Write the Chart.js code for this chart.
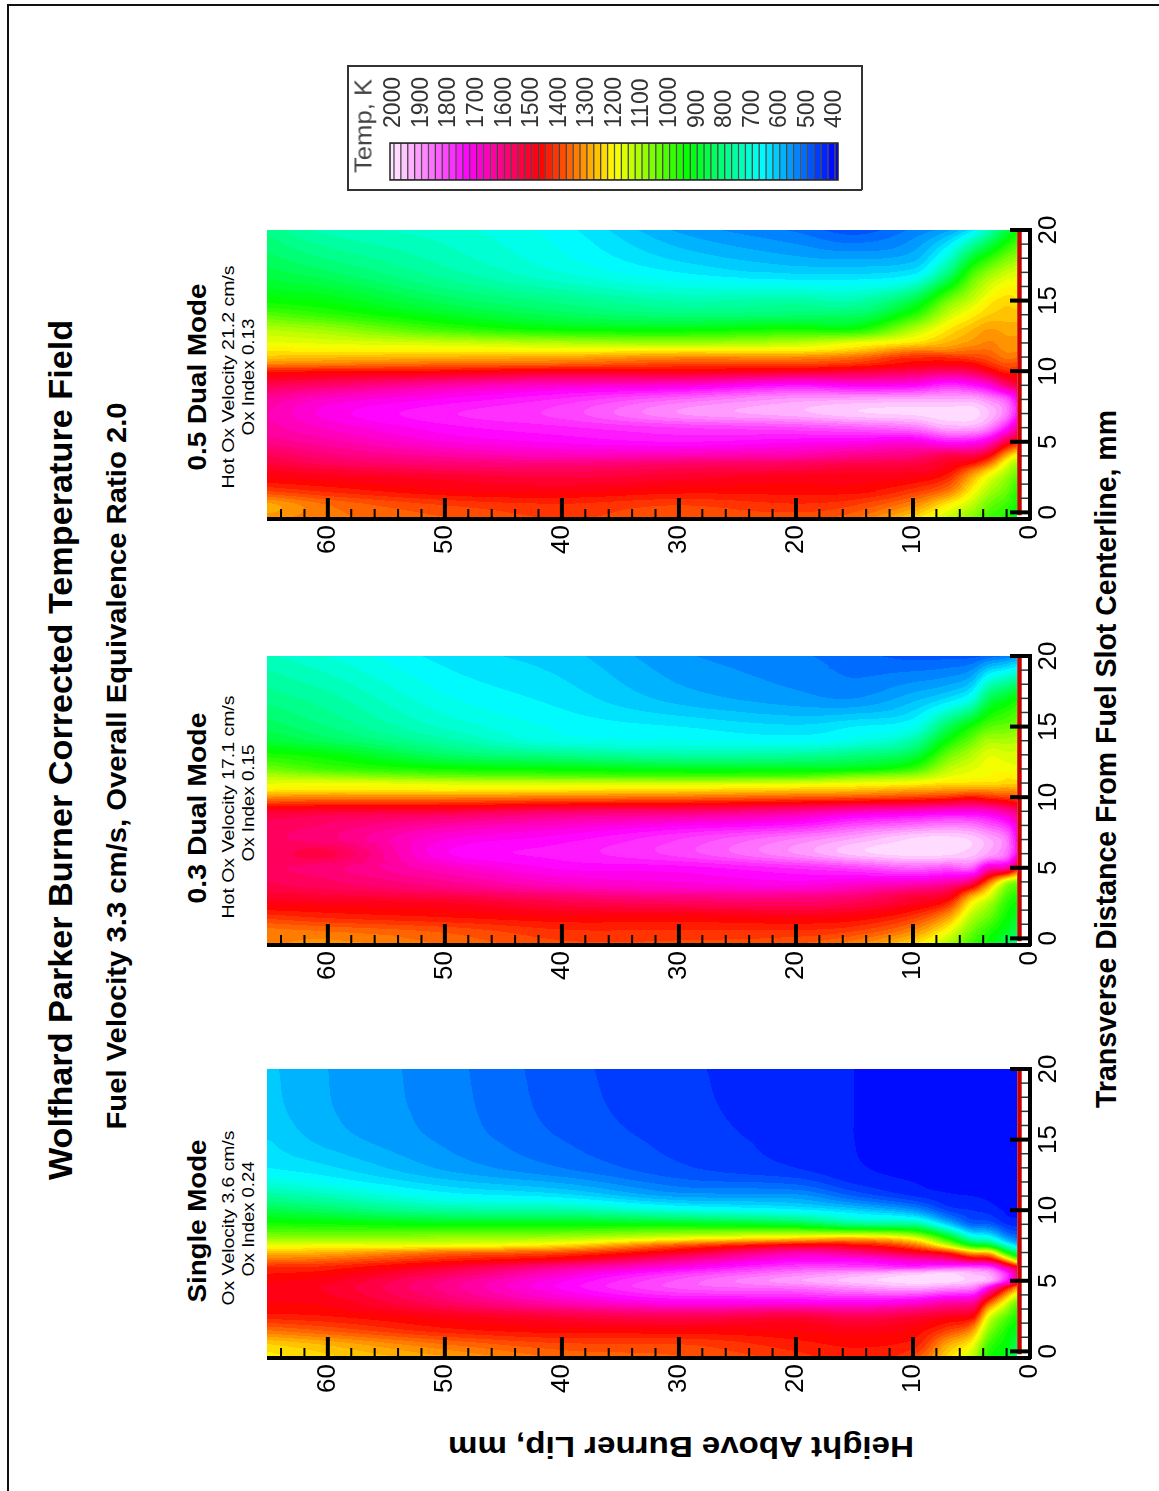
<!DOCTYPE html>
<html><head><meta charset="utf-8">
<style>
html,body{margin:0;padding:0;background:#fff;width:1159px;height:1491px;overflow:hidden}
#page{position:relative;width:1159px;height:1491px}
canvas{position:absolute;display:block}
.t{position:absolute;white-space:nowrap;color:#000;font-family:"Liberation Sans",Arial,sans-serif;line-height:1}
.frame{position:absolute;background:#111}
</style>
<script src="https://cdn.jsdelivr.net/npm/chart.js@4/dist/chart.umd.min.js"></script>
</head><body><div id="page"></div>
<script>
// ---------- data ----------
const heightColumns = [1,2,3.5,5,7,10,15,20,30,40,50,60,65];            // mm above lip
const singleRows = [-0.5,0.5,1.5,2.5,3.5,4.5,5,5.5,6,6.5,7,7.5,8,9,10,11,12,13,15,17,20]; // mm from centerline
const dualRows = [-0.5,0.5,1.5,2.5,3,3.5,4,5,6,7,8,9,10,10.5,11,11.5,12,13,14,15,17,20];
// one list per height column, temperatures in K, in row order
const singleModeTemps = [
[800,850,900,950,1030,1300,1560,1580,1450,1050,800,620,520,440,415,405,400,400,400,400,400],
[900,925,960,1030,1180,1460,1750,1780,1590,1270,950,720,570,450,420,410,405,400,400,400,400],
[950,1000,1080,1180,1400,1720,1930,1920,1780,1500,1250,900,700,500,440,420,410,405,400,400,400],
[1130,1200,1320,1480,1640,1880,1960,1950,1800,1530,1280,950,740,510,450,425,415,405,400,400,400],
[1230,1290,1400,1500,1650,1900,1990,1980,1800,1620,1430,1150,950,620,470,430,415,405,405,405,405],
[1390,1440,1470,1530,1700,1930,1990,1960,1770,1660,1510,1360,1190,780,560,450,425,418,413,413,413],
[1440,1455,1490,1560,1730,1900,1960,1920,1800,1720,1600,1470,1280,800,620,500,445,428,425,425,425],
[1410,1440,1475,1530,1720,1860,1920,1880,1800,1720,1640,1490,1250,880,660,560,490,450,440,438,437],
[1370,1400,1470,1560,1720,1830,1830,1790,1700,1610,1500,1380,1190,920,700,570,510,480,465,458,455],
[1350,1395,1465,1530,1660,1730,1720,1680,1610,1490,1390,1240,1120,930,760,640,570,525,500,490,485],
[1290,1350,1440,1490,1570,1610,1600,1560,1510,1430,1350,1190,1100,930,770,670,610,570,545,538,535],
[1240,1280,1380,1450,1485,1505,1490,1465,1430,1360,1280,1190,1090,950,830,740,670,630,590,578,575],
[1210,1250,1350,1440,1475,1485,1470,1450,1420,1340,1270,1180,1090,960,860,770,700,650,625,610,605]
];
const dual03Temps = [
[770,840,890,930,960,1000,1060,1450,1720,1720,1680,1580,1370,1310,1240,1210,1180,1160,1120,1060,940,560],
[840,900,940,980,1010,1050,1130,1640,1860,1870,1780,1630,1400,1320,1240,1220,1190,1160,1110,1040,900,530],
[925,970,1040,1110,1170,1240,1360,1670,1920,1930,1830,1680,1420,1320,1230,1200,1190,1170,1110,1020,840,510],
[990,1050,1120,1210,1290,1430,1580,1840,1960,1970,1870,1700,1450,1320,1230,1190,1170,1120,1040,950,690,490],
[1100,1190,1300,1430,1500,1560,1650,1830,1980,1990,1880,1700,1420,1310,1230,1170,1130,1040,940,840,630,490],
[1220,1320,1410,1500,1530,1600,1680,1850,1990,1980,1860,1680,1400,1300,1200,1100,990,860,760,680,590,490],
[1320,1400,1470,1550,1590,1650,1700,1810,1960,1930,1820,1660,1380,1270,1180,1060,920,800,690,650,550,510],
[1370,1420,1480,1570,1610,1680,1720,1780,1900,1880,1760,1620,1370,1260,1160,1010,910,770,670,630,560,530],
[1390,1420,1470,1560,1610,1670,1700,1740,1810,1800,1720,1580,1350,1240,1150,1000,910,760,680,650,590,555],
[1390,1420,1470,1540,1580,1640,1680,1730,1760,1740,1680,1570,1340,1230,1150,1020,930,790,690,670,640,610],
[1350,1380,1450,1500,1540,1590,1620,1670,1720,1700,1640,1530,1330,1220,1160,1040,950,830,760,720,680,640],
[1310,1350,1430,1490,1520,1550,1570,1590,1540,1590,1580,1520,1330,1230,1180,1090,1000,930,840,800,760,700],
[1330,1340,1410,1490,1510,1540,1550,1570,1570,1570,1560,1510,1320,1220,1170,1120,1050,960,880,840,790,730]
];
const dual05Temps = [
[890,930,960,1010,1050,1100,1170,1440,1620,1740,1720,1530,1430,1390,1350,1320,1310,1290,1260,1230,1160,930],
[950,990,1040,1090,1130,1180,1280,1530,1750,1870,1830,1590,1430,1380,1340,1320,1310,1290,1260,1240,1140,860],
[990,1040,1110,1180,1250,1360,1470,1680,1880,1950,1890,1700,1490,1420,1380,1350,1330,1300,1250,1210,1080,740],
[1060,1130,1210,1290,1360,1460,1540,1740,1930,1990,1930,1750,1550,1470,1400,1350,1310,1270,1210,1140,990,640],
[1130,1210,1340,1430,1470,1500,1540,1750,1930,1990,1930,1780,1570,1480,1420,1330,1280,1220,1140,1050,800,570],
[1230,1320,1410,1480,1510,1540,1590,1700,1870,1980,1930,1730,1550,1470,1420,1330,1230,1110,970,860,640,530],
[1350,1400,1460,1490,1510,1550,1610,1720,1840,1970,1920,1720,1520,1420,1350,1250,1180,940,830,750,620,485],
[1380,1420,1460,1490,1530,1570,1640,1730,1820,1940,1910,1750,1500,1400,1320,1210,1130,950,820,760,620,520],
[1380,1400,1460,1510,1540,1580,1650,1750,1800,1900,1850,1690,1480,1400,1320,1210,1100,920,810,750,650,570],
[1400,1420,1480,1530,1560,1600,1660,1730,1770,1810,1780,1680,1490,1370,1290,1200,1120,930,840,790,700,660],
[1370,1400,1470,1510,1550,1590,1630,1700,1740,1770,1730,1640,1460,1360,1280,1210,1150,990,900,840,760,710],
[1340,1350,1430,1490,1520,1560,1590,1640,1680,1710,1680,1580,1450,1340,1270,1210,1170,1090,980,920,830,740],
[1320,1290,1400,1480,1500,1530,1550,1610,1640,1650,1630,1550,1440,1330,1260,1220,1180,1120,1020,940,860,790]
];
const heightMajorTicks = [0,10,20,30,40,50,60];
const heightMinorTicks = [2,4,6,8,12,14,16,18,22,24,26,28,32,34,36,38,42,44,46,48,52,54,56,58,62,64];
const distanceMajorTicks = [0,5,10,15,20];
const distanceMinorTicks = [1,2,3,4,6,7,8,9,11,12,13,14,16,17,18,19];
const lipHeight = [0.9];
const legendLevels = [2012.5,1987.5,1962.5,1937.5,1912.5,1887.5,1862.5,1837.5,1812.5,1787.5,1762.5,1737.5,1712.5,1687.5,1662.5,1637.5,1612.5,1587.5,1562.5,1537.5,1512.5,1487.5,1462.5,1437.5,1412.5,1387.5,1362.5,1337.5,1312.5,1287.5,1262.5,1237.5,1212.5,1187.5,1162.5,1137.5,1112.5,1087.5,1062.5,1037.5,1012.5,987.5,962.5,937.5,912.5,887.5,862.5,837.5,812.5,787.5,762.5,737.5,712.5,687.5,662.5,637.5,612.5,587.5,562.5,537.5,512.5,487.5,462.5,437.5,412.5,387.5];
const panelTitles = ["Single Mode","0.3 Dual Mode","0.5 Dual Mode"];
const panelLine2 = ["Ox Velocity 3.6 cm/s","Hot Ox Velocity 17.1 cm/s","Hot Ox Velocity 21.2 cm/s"];
const panelLine3 = ["Ox Index 0.24","Ox Index 0.15","Ox Index 0.13"];

// ---------- colour map ----------
const stopT = [400,667,933,1200,1467,1733,2000];
const stopC = [[0,0,255],[0,255,255],[0,255,0],[255,255,0],[255,0,0],[255,0,255],[255,230,255]];
function colourFor(t){
  t=Math.max(400,Math.min(2000,t));
  let i=0; while(i<stopT.length-2 && t>stopT[i+1]) i++;
  const f=(t-stopT[i])/(stopT[i+1]-stopT[i]), a=stopC[i], b=stopC[i+1];
  return `rgb(${Math.round(a[0]+(b[0]-a[0])*f)},${Math.round(a[1]+(b[1]-a[1])*f)},${Math.round(a[2]+(b[2]-a[2])*f)})`;
}
const BAND=25;
function bandOf(t){return Math.floor(t/BAND)}
function bracket(arr,v){
  let i=0; while(i<arr.length-2 && v>arr[i+1]) i++;
  let f=(v-arr[i])/(arr[i+1]-arr[i]); f=Math.max(0,Math.min(1,f));
  return [i,f];
}
// smooth contour surface through the read values
function tangents(xs,ys){
  const n=xs.length,m=new Array(n);
  for(let i=0;i<n;i++){
    if(i===0){m[i]=(ys[1]-ys[0])/(xs[1]-xs[0]);continue;}
    if(i===n-1){m[i]=(ys[n-1]-ys[n-2])/(xs[n-1]-xs[n-2]);continue;}
    const dl=(ys[i]-ys[i-1])/(xs[i]-xs[i-1]),dr=(ys[i+1]-ys[i])/(xs[i+1]-xs[i]);
    let t=(ys[i+1]-ys[i-1])/(xs[i+1]-xs[i-1]);
    if(dl*dr>0){const lim=3*Math.min(Math.abs(dl),Math.abs(dr));t=Math.sign(t)*Math.min(Math.abs(t),lim);}
    m[i]=t;
  }
  return m;
}
function hermite(xs,ys,ms,i,f){
  const h=xs[i+1]-xs[i],f2=f*f,f3=f2*f;
  return (2*f3-3*f2+1)*ys[i]+(f3-2*f2+f)*h*ms[i]+(-2*f3+3*f2)*ys[i+1]+(f3-f2)*h*ms[i+1];
}
const page=document.getElementById('page');

// ---------- contour fill, positioned through the chart's scales ----------
const contourFill={id:'contourFill',beforeDatasetsDraw(chart){
  const ds=chart.data.datasets[0], xs=chart.scales.x, ys=chart.scales.y, ctx=chart.ctx;
  const cols=ds.heights, rows=ds.rows, T=ds.temps;
  const top=Math.round(ys.getPixelForValue(20)), bottom=Math.round(ys.getPixelForValue(-0.47));
  const left=Math.round(xs.getPixelForValue(65.2)), right=Math.round(xs.getPixelForValue(1.1));
  const xb=[]; for(let px=left;px<right;px++) xb.push(bracket(cols,xs.getValueForPixel(px+0.5)));
  const colTan=T.map(c=>tangents(rows,c));
  for(let py=top;py<bottom;py++){
    const [j,g]=bracket(rows,ys.getValueForPixel(py+0.5));
    const slice=T.map((c,i)=>hermite(rows,c,colTan[i],j,g));
    const sTan=tangents(cols,slice);
    let runStart=left, runBand=null;
    for(let k=0;k<=xb.length;k++){
      let b=null;
      if(k<xb.length){
        const [i,f]=xb[k];
        const t=hermite(cols,slice,sTan,i,f);
        b=bandOf(Math.max(400,Math.min(1999,t)));
      }
      if(b!==runBand){
        if(runBand!==null){ctx.fillStyle=colourFor((runBand+0.5)*BAND);ctx.fillRect(runStart,py,left+k-runStart,1);}
        runStart=left+k; runBand=b;
      }
    }
  }
}};
// ---------- inward ticks ----------
const innerTicks={id:'innerTicks',afterDatasetsDraw(chart){
  const ctx=chart.ctx,xs=chart.scales.x,ys=chart.scales.y,a=chart.chartArea;
  ctx.save();ctx.strokeStyle='#000';
  const hv=(vals,w,len)=>{ctx.lineWidth=w;vals.forEach(v=>{const p=xs.getPixelForValue(v);ctx.beginPath();ctx.moveTo(p,a.bottom);ctx.lineTo(p,a.bottom-len);ctx.stroke();});};
  const dv=(vals,w,len)=>{ctx.lineWidth=w;vals.forEach(v=>{const p=ys.getPixelForValue(v);ctx.beginPath();ctx.moveTo(a.right,p);ctx.lineTo(a.right-len,p);ctx.stroke();});};
  hv(heightMinorTicks,2,10);hv(heightMajorTicks,4,21);
  ctx.strokeStyle='#333';dv(distanceMinorTicks,1.5,10);ctx.strokeStyle='#000';dv(distanceMajorTicks,4,20);
  ctx.restore();
}};
function panel(temps,rows,areaTop){
  const c=document.createElement('canvas');
  const PAD=30,W=813,H=PAD+289+49;c.width=W;c.height=H;
  c.style.left='267px';c.style.top=(areaTop-PAD)+'px';c.style.width=W+'px';c.style.height=H+'px';
  page.appendChild(c);
  const pts=[];heightColumns.forEach((h,i)=>rows.forEach((d,j)=>pts.push({x:h,y:d,v:temps[i][j]})));
  const tickFont={family:'"Liberation Sans",Arial,sans-serif',size:26};
  new Chart(c,{type:'scatter',
    data:{datasets:[
      {label:'Temperature, K',data:pts,heights:heightColumns,rows:rows,temps:temps,pointRadius:0,pointHoverRadius:0,showLine:false},
      {label:'Burner lip',data:[{x:lipHeight[0],y:-0.2},{x:lipHeight[0],y:20}],showLine:true,pointRadius:0,borderColor:'#c80000',borderWidth:4.5,clip:false}
    ]},
    options:{responsive:false,animation:false,devicePixelRatio:1,events:[],
      layout:{padding:{top:PAD,left:0,right:0,bottom:0}},
      plugins:{legend:{display:false},tooltip:{enabled:false}},
      scales:{
        x:{type:'linear',reverse:true,min:0,max:65.2,position:'bottom',
          afterFit(s){s.height=49;},
          grid:{display:false,drawTicks:false},border:{display:true,color:'#000',width:4,z:1},
          ticks:{stepSize:10,includeBounds:false,autoSkip:false,minRotation:90,maxRotation:90,padding:6,color:'#000',font:tickFont}},
        y:{type:'linear',min:-0.47,max:20,position:'right',
          afterFit(s){s.width=50;},
          grid:{display:false,drawTicks:false},border:{display:true,color:'#000',width:4,z:1},
          ticks:{stepSize:5,includeBounds:false,autoSkip:false,minRotation:90,maxRotation:90,crossAlign:'center',padding:4,color:'#000',font:tickFont}}
      }},
    plugins:[contourFill,innerTicks]});
}
panel(singleModeTemps,singleRows,1069);
panel(dual03Temps,dualRows,656);
panel(dual05Temps,dualRows,230);

// ---------- colour legend ----------
(function(){
  const c=document.createElement('canvas');c.width=513;c.height=122;
  c.style.left='345px';c.style.top='63px';c.style.width='513px';c.style.height='122px';
  page.appendChild(c);
  const frame={id:'frame',afterDatasetsDraw(ch){const a=ch.chartArea,x=ch.ctx;x.save();x.strokeStyle='#222';x.lineWidth=1.5;x.strokeRect(a.left,a.top,a.right-a.left,a.bottom-a.top);x.restore();}};
  new Chart(c,{type:'bar',
    data:{datasets:[{label:'Temp, K',data:legendLevels.map(v=>({x:v,y:[0,1]})),
      backgroundColor:legendLevels.map(v=>colourFor(v)),borderColor:'rgba(30,30,30,0.75)',borderWidth:1,borderSkipped:false,
      categoryPercentage:1,barPercentage:1}]},
    options:{responsive:false,animation:false,devicePixelRatio:1,events:[],
      layout:{padding:{left:45,right:20,bottom:5,top:0}},
      plugins:{legend:{display:false},tooltip:{enabled:false}},
      scales:{
        x:{type:'linear',reverse:true,offset:false,min:389,max:2014.5,position:'top',
          afterFit(s){s.height=80;},
          grid:{display:false,drawTicks:false,offset:false},border:{display:false},
          ticks:{stepSize:100,includeBounds:false,autoSkip:false,minRotation:90,maxRotation:90,padding:15,labelOffset:27.6,color:'#333',
            callback:v=>String(v),font:{family:'"Liberation Sans",Arial,sans-serif',size:23}}},
        y:{display:false,min:0,max:1}
      }},
    plugins:[frame]});
})();

// ---------- text and frames ----------
const measure=document.createElement('canvas').getContext('2d');
function text(str,cx,cy,angle,weight,size,length,colour){
  const d=document.createElement('div');d.className='t';d.textContent=str;
  d.style.fontSize=size+'px';d.style.fontWeight=weight;if(colour)d.style.color=colour;
  measure.font=`${weight} ${size}px "Liberation Sans"`;
  const sx=length/measure.measureText(str).width;
  d.style.left=cx+'px';d.style.top=cy+'px';
  d.style.transform=`translate(-50%,-50%) rotate(${angle}deg) scaleX(${sx.toFixed(3)})`;
  page.appendChild(d);
}
text("Wolfhard Parker Burner Corrected Temperature Field",60,750,-90,'bold',33,860);
text("Fuel Velocity 3.3 cm/s, Overall Equivalence Ratio 2.0",117,766,-90,'bold',27,727);
text("Height Above Burner Lip, mm",681,1447,180,'bold',30,467);
text("Transverse Distance From Fuel Slot Centerline, mm",1106,759,-90,'bold',29,698);
const titleY=[1221,807.5,376.5],line2Y=[1218,806.5,376.5],line3Y=[1219,803,376.5];
const titleLen=[163,191,187],line2Len=[175,223,223],line3Len=[115,117,117];
panelTitles.forEach((s,i)=>{
  text(s,197,titleY[i],-90,'bold',25,titleLen[i]);
  text(panelLine2[i],228,line2Y[i],-90,'normal',17,line2Len[i]);
  text(panelLine3[i],248,line3Y[i],-90,'normal',17,line3Len[i]);
});
text("Temp, K",364,126,-90,'normal',23,94,'#444');
function rect(l,t,w,h,bg){const d=document.createElement('div');d.className='frame';d.style.cssText+=`left:${l}px;top:${t}px;width:${w}px;height:${h}px;background:${bg||'#111'}`;page.appendChild(d);}
rect(7,4,1152,2);rect(7,4,1.5,1487);
// legend box
rect(347,65,515,1.5,'#333');rect(347,189,515,1.5,'#333');rect(347,65,1.5,125,'#333');rect(861,65,1.5,125,'#333');
</script></body></html>
